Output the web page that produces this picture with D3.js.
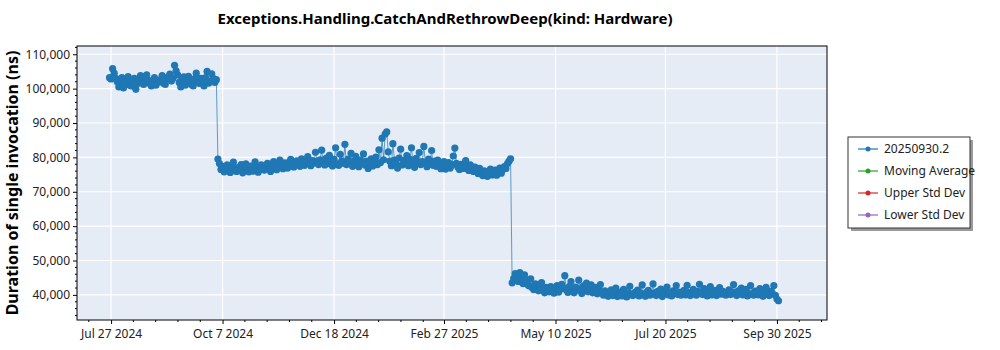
<!DOCTYPE html>
<html>
<head>
<meta charset="utf-8">
<script src="https://cdn.jsdelivr.net/npm/d3@7"></script>
<style>
  html, body { margin: 0; padding: 0; background: #ffffff; }
  svg { display: block; font-family: "Noto Sans", "Open Sans", sans-serif; }
</style>
</head>
<body>
<svg id="chart" width="1000" height="350"></svg>
<script>
// ---------------- DATA ----------------
const chartTitle = "Exceptions.Handling.CatchAndRethrowDeep(kind: Hardware)";
const yAxisTitle = "Duration of single invocation (ns)";
const seriesNames = ["20250930.2", "Moving Average", "Upper Std Dev", "Lower Std Dev"];
const seriesColors = ["#1f77b4", "#2ca02c", "#d62728", "#9467bd"];
const startDate = "2024-07-26";   // first daily sample
const xTickLabels = ["2024-07-27", "2024-10-07", "2024-12-18", "2025-02-27", "2025-05-10", "2025-07-20", "2025-09-30"];
const yTickValues = [40000, 50000, 60000, 70000, 80000, 90000, 100000, 110000];

// daily durations (ns) for build 20250930.2
const durations = [
  // Jul 26 2024 – Oct 3 2024
  103200, 102800, 105800, 104500, 103000, 102000, 100500, 101800, 103200, 100200,
  101500, 102700, 103500, 101000, 100800, 102200, 103000, 99800, 101400, 102600,
  103800, 102000, 101200, 103400, 104000, 102500, 101500, 100800, 102200, 103200,
  101000, 101800, 102500, 102000, 103800, 101500, 101200, 102800, 103500, 104200,
  102200, 103000, 106800, 105200, 104000, 101800, 100500, 102600, 103400, 101000,
  102200, 103600, 102400, 101200, 100800, 102900, 104500, 102000, 101500, 103000,
  102400, 100800, 103200, 105000, 101600, 102200, 104300, 103000, 101800, 102600,
  // Oct 4 2024 – Apr 11 2025
  79500, 78200, 76500, 77400, 75800, 76200, 77800, 76000, 75600, 77200,
  78600, 76400, 75900, 77000, 76300, 77900, 75500, 76800, 78100, 76200,
  75800, 77500, 76600, 76000, 78700, 77200, 75700, 76500, 77800, 76900,
  76300, 77600, 78300, 76800, 75900, 77400, 78800, 77100, 76400, 78000,
  79200, 77500, 76700, 78400, 77900, 76900, 78600, 79400, 77800, 77200,
  78300, 79000, 78100, 77400, 79600, 78500, 77700, 78900, 80200, 78300,
  77600, 79100, 78400, 81500, 78900, 77900, 79300, 82100, 78600, 77800,
  79800, 78200, 80600, 78900, 77500, 79400, 82800, 78100, 77700, 80900,
  79000, 78300, 83800, 77900, 79500, 78600, 81200, 77400, 78900, 80300,
  78700, 77300, 79200, 78400, 81000, 77800, 78900, 76800, 78200, 79600,
  77500, 78800, 80100, 77900, 82200, 78500, 85600, 79300, 86800, 87400,
  81600, 78900, 77600, 84000, 79200,
  78100, 76900, 79800, 82400, 77800, 79100, 78300, 80500, 77600, 79400,
  82800, 78200, 77100, 79700, 78600, 81400, 77900, 78800, 83200, 78400,
  77300, 79500, 78100, 82000, 77700, 78900, 77400, 79200, 78100, 76700,
  77900, 78800, 76600, 77300, 78500, 76900, 77800, 80400, 82700, 78300,
  77100, 76500, 78000, 77400, 76800, 79100, 77300, 76200, 77800, 76900,
  75900, 77200, 76400, 75300, 76800, 75600, 74700, 76100, 75200, 74500,
  75800, 76600, 74900, 75500, 76300, 74800, 75700, 76900, 75400, 76500,
  77300, 76800, 78200, 78900, 79600,
  // Apr 12 2025 – Sep 30 2025
  43500, 44800, 46200, 45100, 43900, 46500, 44600, 43300, 45800, 44200,
  43000, 42600, 44700, 42100, 41500, 43200, 42800, 41200, 41800, 43600,
  41300, 40600, 42200, 41700, 40900, 42400, 41000, 40500, 41900, 42700,
  40800, 41600, 43100, 42000, 45600, 41400, 40700, 42500, 43900, 41200,
  40600, 42300, 41800, 44300, 41100, 40400, 42600, 41500, 43400, 40900,
  41700, 42900, 40600, 41300, 42200, 40300, 41600, 43000, 40800, 39900,
  41200, 40500, 39600, 40900, 41500, 39800, 40400, 42000, 39500, 40100,
  40800, 39700, 41600, 40300, 39400, 40600, 42500, 40000, 39800, 40700,
  40200, 41400, 39700, 40500, 42900, 40100, 39600, 40800, 41300, 39900,
  40400, 43200, 40600, 39800, 41000, 40200, 41700, 39500, 40300, 40900,
  42300, 40000, 40600, 39700, 41200, 40400, 42700, 40100, 40800, 39900,
  40500, 41300, 40000, 42800, 40700, 39800, 40400, 41600, 40200, 39900,
  41000, 43100, 40500, 40100, 41800, 40300, 39700, 40800, 42400, 40000,
  40600, 41300, 39800, 40500, 42100, 40200, 41000, 40400, 39900, 40700,
  41500, 40100, 40800, 43000, 40300, 39800, 41200, 40500, 42000, 40000,
  40700, 41600, 39700, 40400, 42700, 40200, 39900, 41100, 40500, 40000,
  41800, 40300, 39600, 40900, 42200, 40100, 39800, 41000, 40400, 42700,
  39900, 38800, 38300
];

// ---------------- LAYOUT ----------------
const margin = { left: 77, right: 173, top: 46, bottom: 30 };
const W = 1000, H = 350;
const plotW = W - margin.left - margin.right;
const plotH = H - margin.top - margin.bottom;

const parse = d3.timeParse("%Y-%m-%d");
const t0 = parse(startDate);
const points = durations.map((v, i) => ({ date: d3.timeDay.offset(t0, i), value: v }));

const x = d3.scaleTime()
  .domain([new Date(2024, 6, 5, 0), new Date(2025, 10, 1, 8)])
  .range([0, plotW]);
const y = d3.scaleLinear()
  .domain([32700, 112400])
  .range([plotH, 0]);

const svg = d3.select("#chart");

svg.append("text")
  .attr("x", 445).attr("y", 24)
  .attr("text-anchor", "middle")
  .attr("font-size", 15).attr("font-weight", "bold")
  .attr("fill", "#000")
  .text(chartTitle);

const g = svg.append("g").attr("transform", `translate(${margin.left},${margin.top})`);

g.append("rect").attr("width", plotW).attr("height", plotH).attr("fill", "#E5ECF6");

const xTicks = xTickLabels.map(parse);

// gridlines
g.append("g").selectAll("line").data(yTickValues).join("line")
  .attr("x1", 0).attr("x2", plotW)
  .attr("y1", d => y(d)).attr("y2", d => y(d))
  .attr("stroke", "#fff").attr("stroke-width", 1.2);
g.append("g").selectAll("line").data(xTicks).join("line")
  .attr("y1", 0).attr("y2", plotH)
  .attr("x1", d => x(d)).attr("x2", d => x(d))
  .attr("stroke", "#fff").attr("stroke-width", 1.2);

// clip
svg.append("defs").append("clipPath").attr("id", "clip")
  .append("rect").attr("width", plotW).attr("height", plotH);

const plot = g.append("g").attr("clip-path", "url(#clip)");

const line = d3.line().x(d => x(d.date)).y(d => y(d.value));
plot.append("path").datum(points)
  .attr("fill", "none").attr("stroke", seriesColors[0])
  .attr("stroke-opacity", 0.7).attr("stroke-width", 1)
  .attr("d", line);
plot.append("g").selectAll("circle").data(points).join("circle")
  .attr("cx", d => x(d.date)).attr("cy", d => y(d.value))
  .attr("r", 3.6).attr("fill", seriesColors[0]);

// axes
const fmtDate = d3.timeFormat("%b %-d %Y");
const xAxis = d3.axisBottom(x).tickValues(xTicks).tickFormat(fmtDate).tickSize(4).tickSizeOuter(0);
const yAxis = d3.axisLeft(y).tickValues(yTickValues).tickFormat(d3.format(",")).tickSize(4).tickSizeOuter(0);

const gx = g.append("g").attr("transform", `translate(0,${plotH})`).call(xAxis);
const gy = g.append("g").call(yAxis);
[gx, gy].forEach(a => {
  a.select(".domain").remove();
  a.selectAll("text").attr("font-size", 12).attr("fill", "#222")
    .attr("font-family", "'Noto Sans', sans-serif");
  a.selectAll(".tick line").attr("stroke", "#000");
});
gx.selectAll("text").attr("dy", "0.95em");

// minor ticks
const yMinor = d3.range(34000, 112001, 2000).filter(v => v % 10000 !== 0);
g.append("g").selectAll("line").data(yMinor).join("line")
  .attr("x1", -2).attr("x2", 0).attr("y1", d => y(d)).attr("y2", d => y(d))
  .attr("stroke", "#000");
const xMinor = [];
for (let i = -1; i < xTicks.length; i++) {
  const a = i < 0 ? d3.timeDay.offset(xTicks[0], -72) : xTicks[i];
  for (let k = 1; k < 5; k++) xMinor.push(new Date(+a + k * 72 * 864e5 / 5));
}
g.append("g").selectAll("line").data(xMinor.filter(d => x(d) > 0 && x(d) < plotW)).join("line")
  .attr("y1", plotH).attr("y2", plotH + 2).attr("x1", d => x(d)).attr("x2", d => x(d))
  .attr("stroke", "#000");

// border
g.append("rect").attr("width", plotW).attr("height", plotH)
  .attr("fill", "none").attr("stroke", "#000").attr("stroke-width", 1);

// y title
svg.append("text")
  .attr("transform", `translate(18,${margin.top + plotH / 2}) rotate(-90)`)
  .attr("text-anchor", "middle")
  .attr("font-size", 16).attr("font-weight", "bold")
  .text(yAxisTitle);

// legend
const lg = svg.append("g").attr("transform", "translate(848,137)");
lg.append("rect").attr("x", 3).attr("y", 3).attr("width", 122).attr("height", 91).attr("fill", "#9a9a9a");
lg.append("rect").attr("width", 122).attr("height", 91).attr("fill", "#fff").attr("stroke", "#333");
seriesNames.forEach((name, i) => {
  const yy = 12 + i * 22;
  lg.append("line").attr("x1", 10).attr("x2", 30).attr("y1", yy).attr("y2", yy)
    .attr("stroke", seriesColors[i]).attr("stroke-width", 1.2);
  lg.append("circle").attr("cx", 20).attr("cy", yy).attr("r", 2.5).attr("fill", seriesColors[i]);
  lg.append("text").attr("x", 36).attr("y", yy + 4).attr("font-size", 12).attr("fill", "#222").text(name);
});
</script>
</body>
</html>
